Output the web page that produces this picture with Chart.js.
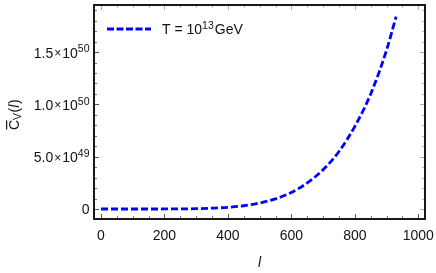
<!DOCTYPE html>
<html>
<head>
<meta charset="utf-8">
<script src="https://cdn.jsdelivr.net/npm/chart.js@4/dist/chart.umd.min.js"></script>
<style>
  html, body { margin: 0; padding: 0; background: #fff; }
  #wrap { width: 436px; height: 273px; }
</style>
</head>
<body>
<div id="wrap"><canvas id="cvChart" width="436" height="273"></canvas></div>
<script>
// multipole l and the curve C_V(l)
const lValues = [0, 50, 100, 150, 200, 250, 300, 350, 400, 450, 500, 550, 600, 650, 700, 750, 800, 850, 900, 930];
const cvValues = [0, 0, 0, 0, 3e46, 1e47, 3e47, 8e47, 1.6e48, 3.1e48, 5.7e48, 9.7e48, 1.58e49, 2.5e49, 3.75e49, 5.5e49, 7.9e49, 1.1e50, 1.52e50, 1.84e50];

// axis ticks
const xMajorTicks = [0, 200, 400, 600, 800, 1000];
const xMinorTicks = [50, 100, 150, 250, 300, 350, 450, 500, 550, 650, 700, 750, 850, 900, 950];
const yMajorTicks = [0, 5e49, 1e50, 1.5e50];
const yMajorLabels = [["0", null], ["5.0", "49"], ["1.0", "50"], ["1.5", "50"]];
const yMinorTicks = [1e49, 2e49, 3e49, 4e49, 6e49, 7e49, 8e49, 9e49, 1.1e50, 1.2e50, 1.3e50, 1.4e50, 1.6e50, 1.7e50, 1.8e50, 1.9e50];

const FONT = "Liberation Sans, Arial, sans-serif";
const LINE_COLOR = "#0000ff";

// 数値ラベル (10のべき乗付き)
function drawSci(ctx, mant, exp, xRight, yBase) {
    ctx.textAlign = "left";
    ctx.textBaseline = "alphabetic";
    ctx.font = "14px " + FONT;
    if (exp === null) {
        const w = ctx.measureText(mant).width;
        ctx.fillText(mant, xRight - w, yBase);
        return;
    }
    const wm = ctx.measureText(mant).width;
    const wt = ctx.measureText("10").width;
    ctx.font = "10.5px " + FONT;
    const we = ctx.measureText(exp).width;
    ctx.font = "12px " + FONT;
    const wx = ctx.measureText("\u00d7").width;
    const total = wm + 1 + wx + 1 + wt + we;
    let x = xRight - total;
    ctx.font = "14px " + FONT;
    ctx.fillText(mant, x, yBase);
    x += wm + 1;
    ctx.font = "12px " + FONT;
    ctx.fillText("\u00d7", x, yBase - 0.5);
    x += wx + 1;
    ctx.font = "14px " + FONT;
    ctx.fillText("10", x, yBase);
    x += wt;
    ctx.font = "10.5px " + FONT;
    ctx.fillText(exp, x, yBase - 5.3);
}

const framePlugin = {
    id: "frame",
    afterDraw(chart) {
        const ctx = chart.ctx;
        const a = chart.chartArea;
        const xs = chart.scales.x;
        const ys = chart.scales.y;
        ctx.save();

        // ticks
        ctx.lineWidth = 1;
        const tick = (x1, y1, x2, y2, color) => {
            ctx.strokeStyle = color;
            ctx.beginPath();
            ctx.moveTo(x1, y1);
            ctx.lineTo(x2, y2);
            ctx.stroke();
        };
        xMajorTicks.forEach(v => {
            const px = Math.round(xs.getPixelForValue(v)) + 0.5;
            tick(px, a.bottom, px, a.bottom - 5, "#555");
            tick(px, a.top, px, a.top + 5, "#aaa");
        });
        xMinorTicks.forEach(v => {
            const px = Math.round(xs.getPixelForValue(v)) + 0.5;
            tick(px, a.bottom, px, a.bottom - 3, "#777");
            tick(px, a.top, px, a.top + 3, "#bbb");
        });
        yMajorTicks.forEach(v => {
            const py = Math.round(ys.getPixelForValue(v)) + 0.5;
            tick(a.left, py, a.left + 5, py, "#555");
            tick(a.right, py, a.right - 5, py, "#aaa");
        });
        yMinorTicks.forEach(v => {
            const py = Math.round(ys.getPixelForValue(v)) + 0.5;
            tick(a.left, py, a.left + 3, py, "#777");
            tick(a.right, py, a.right - 3, py, "#bbb");
        });

        // frame
        ctx.strokeStyle = "#000";
        ctx.lineWidth = 1.8;
        ctx.strokeRect(a.left, a.top, a.right - a.left, a.bottom - a.top);

        // tick labels
        ctx.fillStyle = "#111";
        ctx.font = "14px " + FONT;
        ctx.textAlign = "center";
        ctx.textBaseline = "alphabetic";
        xMajorTicks.forEach(v => {
            ctx.fillText(String(v), xs.getPixelForValue(v), 240);
        });
        yMajorTicks.forEach((v, i) => {
            const lab = yMajorLabels[i];
            drawSci(ctx, lab[0], lab[1], 89.5, ys.getPixelForValue(v) + 5.5);
        });

        // x axis title
        ctx.font = "italic 14px " + FONT;
        ctx.textAlign = "center";
        ctx.fillText("l", (a.left + a.right) / 2, 267);

        // y axis title: C-bar_V(l)
        ctx.save();
        ctx.translate(18.5, 130);
        ctx.rotate(-Math.PI / 2);
        ctx.textAlign = "left";
        ctx.font = "14px " + FONT;
        let x = 0;
        const wc = ctx.measureText("C").width;
        ctx.fillText("C", x, 0);
        ctx.fillRect(x + 0.5, -12.5, wc - 1, 1.2);
        x += wc;
        ctx.font = "10.5px " + FONT;
        ctx.fillText("V", x, 2.5);
        x += ctx.measureText("V").width + 0.5;
        ctx.font = "14px " + FONT;
        ctx.fillText("(", x, 0);
        x += ctx.measureText("(").width;
        ctx.font = "italic 14px " + FONT;
        ctx.fillText("l", x, 0);
        x += ctx.measureText("l").width + 0.5;
        ctx.font = "14px " + FONT;
        ctx.fillText(")", x, 0);
        ctx.restore();

        // legend
        ctx.strokeStyle = LINE_COLOR;
        ctx.lineWidth = 2.8;
        ctx.setLineDash([7, 2.5]);
        ctx.beginPath();
        ctx.moveTo(107, 29);
        ctx.lineTo(151, 29);
        ctx.stroke();
        ctx.setLineDash([]);
        ctx.fillStyle = "#111";
        ctx.textAlign = "left";
        ctx.font = "14px " + FONT;
        let lx = 162;
        ctx.fillText("T = 10", lx, 34);
        lx += ctx.measureText("T = 10").width;
        ctx.font = "10.5px " + FONT;
        ctx.fillText("13", lx, 28.7);
        lx += ctx.measureText("13").width + 1;
        ctx.font = "14px " + FONT;
        ctx.fillText("GeV", lx, 34);

        ctx.restore();
    }
};

const points = lValues.map((l, i) => ({ x: l, y: cvValues[i] }));

new Chart(document.getElementById("cvChart"), {
    type: "line",
    data: {
        datasets: [{
            label: "T = 10^13 GeV",
            data: points,
            borderColor: LINE_COLOR,
            borderWidth: 2.8,
            borderDash: [7, 3],
            pointRadius: 0,
            fill: false,
            cubicInterpolationMode: "monotone"
        }]
    },
    options: {
        responsive: false,
        animation: false,
        layout: { padding: { left: 94, top: 5, right: 11, bottom: 54 } },
        plugins: { legend: { display: false }, tooltip: { enabled: false } },
        scales: {
            x: { type: "linear", min: -22, max: 1021, display: false },
            y: { type: "linear", min: -0.956e49, max: 1.95e50, display: false }
        }
    },
    plugins: [framePlugin]
});
</script>
</body>
</html>
